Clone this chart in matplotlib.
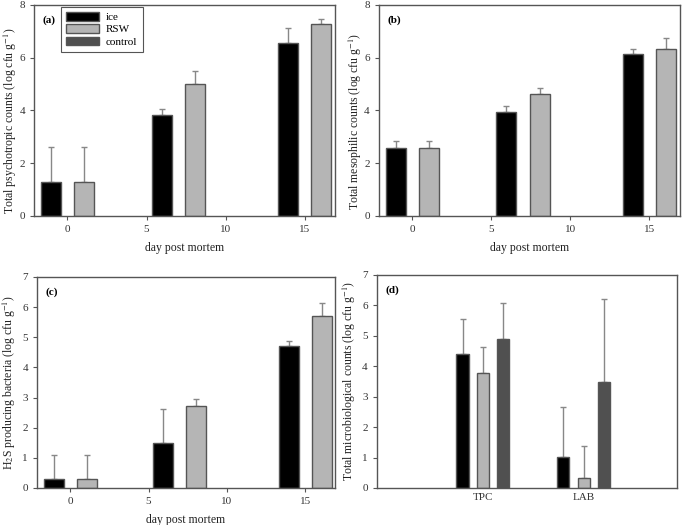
import numpy as np
import matplotlib
matplotlib.use("Agg")
import matplotlib.pyplot as plt
from matplotlib.patches import Patch

plt.rcParams['font.family'] = ['Liberation Serif', 'DejaVu Serif']
plt.rcParams['mathtext.fontset'] = 'stix'

# data
days = [0, 7, 15]
series = ["ice", "RSW", "control"]

psy_ice = [1.27, 3.83, 6.55]
psy_ice_err = [1.35, 0.21, 0.57]
psy_rsw = [1.27, 5.00, 7.29]
psy_rsw_err = [1.35, 0.51, 0.19]

mes_ice = [2.59, 3.95, 6.14]
mes_ice_err = [0.26, 0.22, 0.20]
mes_rsw = [2.59, 4.64, 6.33]
mes_rsw_err = [0.26, 0.23, 0.40]

h2s_ice = [0.31, 1.48, 4.70]
h2s_ice_err = [0.80, 1.14, 0.18]
h2s_rsw = [0.31, 2.72, 5.70]
h2s_rsw_err = [0.80, 0.24, 0.43]

groups = ["TPC", "LAB"]
tot_ice = [4.39, 1.01]
tot_ice_err = [1.15, 1.66]
tot_rsw = [3.77, 0.32]
tot_rsw_err = [0.85, 1.06]
tot_ctrl = [4.88, 3.47]
tot_ctrl_err = [1.19, 2.73]

colors = {"ice": "#000000", "RSW": "#b5b5b5", "control": "#505050"}
edge = "#555555"
errc = "#888888"


def style(ax):
    for s in ax.spines.values():
        s.set_color(edge)
        s.set_linewidth(1.0)
    ax.tick_params(direction='out', length=3, width=0.8, color=edge,
                   labelsize=8, labelcolor="#333333")


def bars(ax, x, vals, errs, name, width):
    ax.bar(x, vals, width=width, color=colors[name], edgecolor=edge,
           linewidth=1.0, zorder=2)
    ax.errorbar(x, vals, yerr=[np.zeros(len(vals)), errs], fmt='none',
                ecolor=errc, elinewidth=1.0, capsize=2.5, capthick=1.0,
                zorder=1)


fig = plt.figure(figsize=(6.85, 5.25), dpi=100)
ax_a = fig.add_axes([0.0496, 0.5886, 0.439, 0.402])
ax_b = fig.add_axes([0.553, 0.5886, 0.439, 0.402])
ax_c = fig.add_axes([0.054, 0.0705, 0.435, 0.402])
ax_d = fig.add_axes([0.550, 0.0705, 0.439, 0.406])

x = np.array(days, dtype=float)
w = 1.27
off = 1.05

panels = [
    (ax_a, psy_ice, psy_ice_err, psy_rsw, psy_rsw_err, 8,
     "Total psychotropic counts (log cfu g$^{-1}$)", "(a)"),
    (ax_b, mes_ice, mes_ice_err, mes_rsw, mes_rsw_err, 8,
     "Total mesophilic counts (log cfu g$^{-1}$)", "(b)"),
    (ax_c, h2s_ice, h2s_ice_err, h2s_rsw, h2s_rsw_err, 7,
     "H$_2$S producing bacteria (log cfu g$^{-1}$)", "(c)"),
]

for ax, ice, ice_e, rsw, rsw_e, top, ylab, lab in panels:
    bars(ax, x - off, ice, ice_e, "ice", w)
    bars(ax, x + off, rsw, rsw_e, "RSW", w)
    ax.set_xlim(-2.12, 16.9)
    ax.set_ylim(0, top)
    ax.set_xticks([0, 5, 10, 15])
    ax.set_yticks(range(0, top + 1, 2 if top == 8 else 1))
    ax.set_xlabel("day post mortem", fontsize=8.5, labelpad=6, color="#222222")
    ax.set_ylabel(ylab, fontsize=8.5, labelpad=3, color="#222222")
    ax.text(0.028, 0.95, lab, transform=ax.transAxes, fontsize=8,
            fontweight='bold', va='top')
    style(ax)

ax_a.yaxis.set_label_coords(-0.05, 0.45)
ax_b.yaxis.set_label_coords(-0.05, 0.45)

handles = [Patch(facecolor=colors[s], edgecolor=edge, label=s) for s in series]
leg = ax_a.legend(handles=handles, loc='upper left', bbox_to_anchor=(0.09, 0.99),
                  borderaxespad=0, fontsize=8, handlelength=3.0, handleheight=0.8,
                  handletextpad=0.6, labelspacing=0.2, fancybox=False,
                  framealpha=1, borderpad=0.45)
leg.get_frame().set_edgecolor(edge)
leg.get_frame().set_linewidth(0.8)

gx = np.array([1.0, 2.0])
wd = 0.12
od = 0.2
bars(ax_d, gx - od, tot_ice, tot_ice_err, "ice", wd)
bars(ax_d, gx, tot_rsw, tot_rsw_err, "RSW", wd)
bars(ax_d, gx + od, tot_ctrl, tot_ctrl_err, "control", wd)
ax_d.set_xlim(-0.05, 2.93)
ax_d.set_ylim(0, 7)
ax_d.set_xticks(gx)
ax_d.set_xticklabels(groups)
ax_d.set_yticks(range(0, 8))
ax_d.set_ylabel("Total microbiological counts (log cfu g$^{-1}$)", fontsize=8.5,
                labelpad=3, color="#222222")
ax_d.text(0.028, 0.95, "(d)", transform=ax_d.transAxes, fontsize=8,
          fontweight='bold', va='top')
style(ax_d)
ax_d.tick_params(axis='x', length=0)

fig.savefig("out.png", dpi=100)
